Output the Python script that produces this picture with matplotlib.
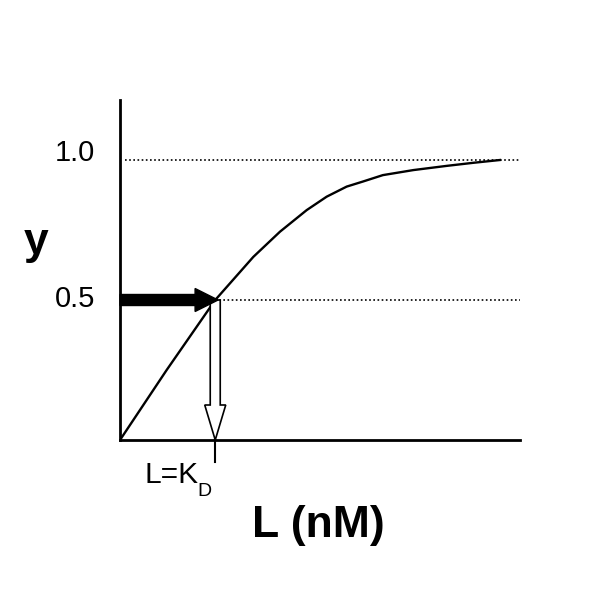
import matplotlib
matplotlib.use("Agg")
import matplotlib.pyplot as plt
from matplotlib.patches import FancyArrow

plt.rcParams['font.family'] = ['Liberation Sans', 'DejaVu Sans']

# Saturation curve (L in units of K_D, y = fraction bound)
L_vals = [0.0, 0.49, 1.0, 1.40, 1.68, 1.96, 2.17, 2.38, 2.55, 2.76, 3.08, 3.43, 3.71, 3.99]
y_vals = [0.0, 0.25, 0.50, 0.654, 0.744, 0.821, 0.869, 0.905, 0.923, 0.946, 0.964, 0.979, 0.990, 1.0]
KD = 1.0
ytick_vals = [0.5, 1.0]
ytick_labels = ["0.5", "1.0"]

fig = plt.figure(figsize=(6, 6), dpi=100)
ax = fig.add_axes([120/600, 160/600, 400/600, 340/600])
xmax = 4.2
ymax = 340/280
ax.set_xlim(0, xmax)
ax.set_ylim(0, ymax)
for s in ['top', 'right']:
    ax.spines[s].set_visible(False)
for s in ['left', 'bottom']:
    ax.spines[s].set_linewidth(2.0)
ax.set_xticks([])
ax.set_yticks([])

# dotted guide lines
ax.plot([0.05, xmax], [1.0, 1.0], color='black', lw=1.2, linestyle=(0, (1, 1.5)), zorder=1)
ax.plot([KD, xmax], [0.5, 0.5], color='black', lw=1.2, linestyle=(0, (1, 1.5)), zorder=1)

# curve
ax.plot(L_vals, y_vals, color='black', lw=1.7, zorder=2, solid_joinstyle='round')

# thick black horizontal arrow
ax.add_patch(FancyArrow(0, 0.5, KD + 0.03, 0, width=11/280, head_width=23/280,
                        head_length=23/95.24, length_includes_head=True,
                        color='black', zorder=4, clip_on=False))
# hollow downward arrow
ax.add_patch(FancyArrow(KD, 0.5, 0, -0.5, width=10/95.24, head_width=21/95.24,
                        head_length=35/280, length_includes_head=True,
                        facecolor='white', edgecolor='black', lw=1.2, zorder=3))

# tick below axis at K_D
ax.plot([KD, KD], [0, -22/280], color='black', lw=1.5, clip_on=False)

# y labels
ax.text(-25/95.24, 0.504, ytick_labels[0], ha='right', va='center', fontsize=21)
ax.text(-25/95.24, 1.025, ytick_labels[1], ha='right', va='center', fontsize=21)

# KD label
t = ax.text(25/95.24, -43/280, "L=K", ha='left', va='baseline', fontsize=21.5)
ax.annotate("D", xy=(1, 0), xycoords=t, xytext=(-1.0, -5), textcoords='offset points',
            ha='left', va='baseline', fontsize=14)

# axis titles
fig.text(318.5/600, 1 - 537/600, "L (nM)", ha='center', va='baseline', fontsize=32, fontweight='bold')
fig.text(35.8/600, 1 - 254/600, "y", ha='center', va='baseline', fontsize=32, fontweight='bold')

fig.savefig("out.png", dpi=100)
